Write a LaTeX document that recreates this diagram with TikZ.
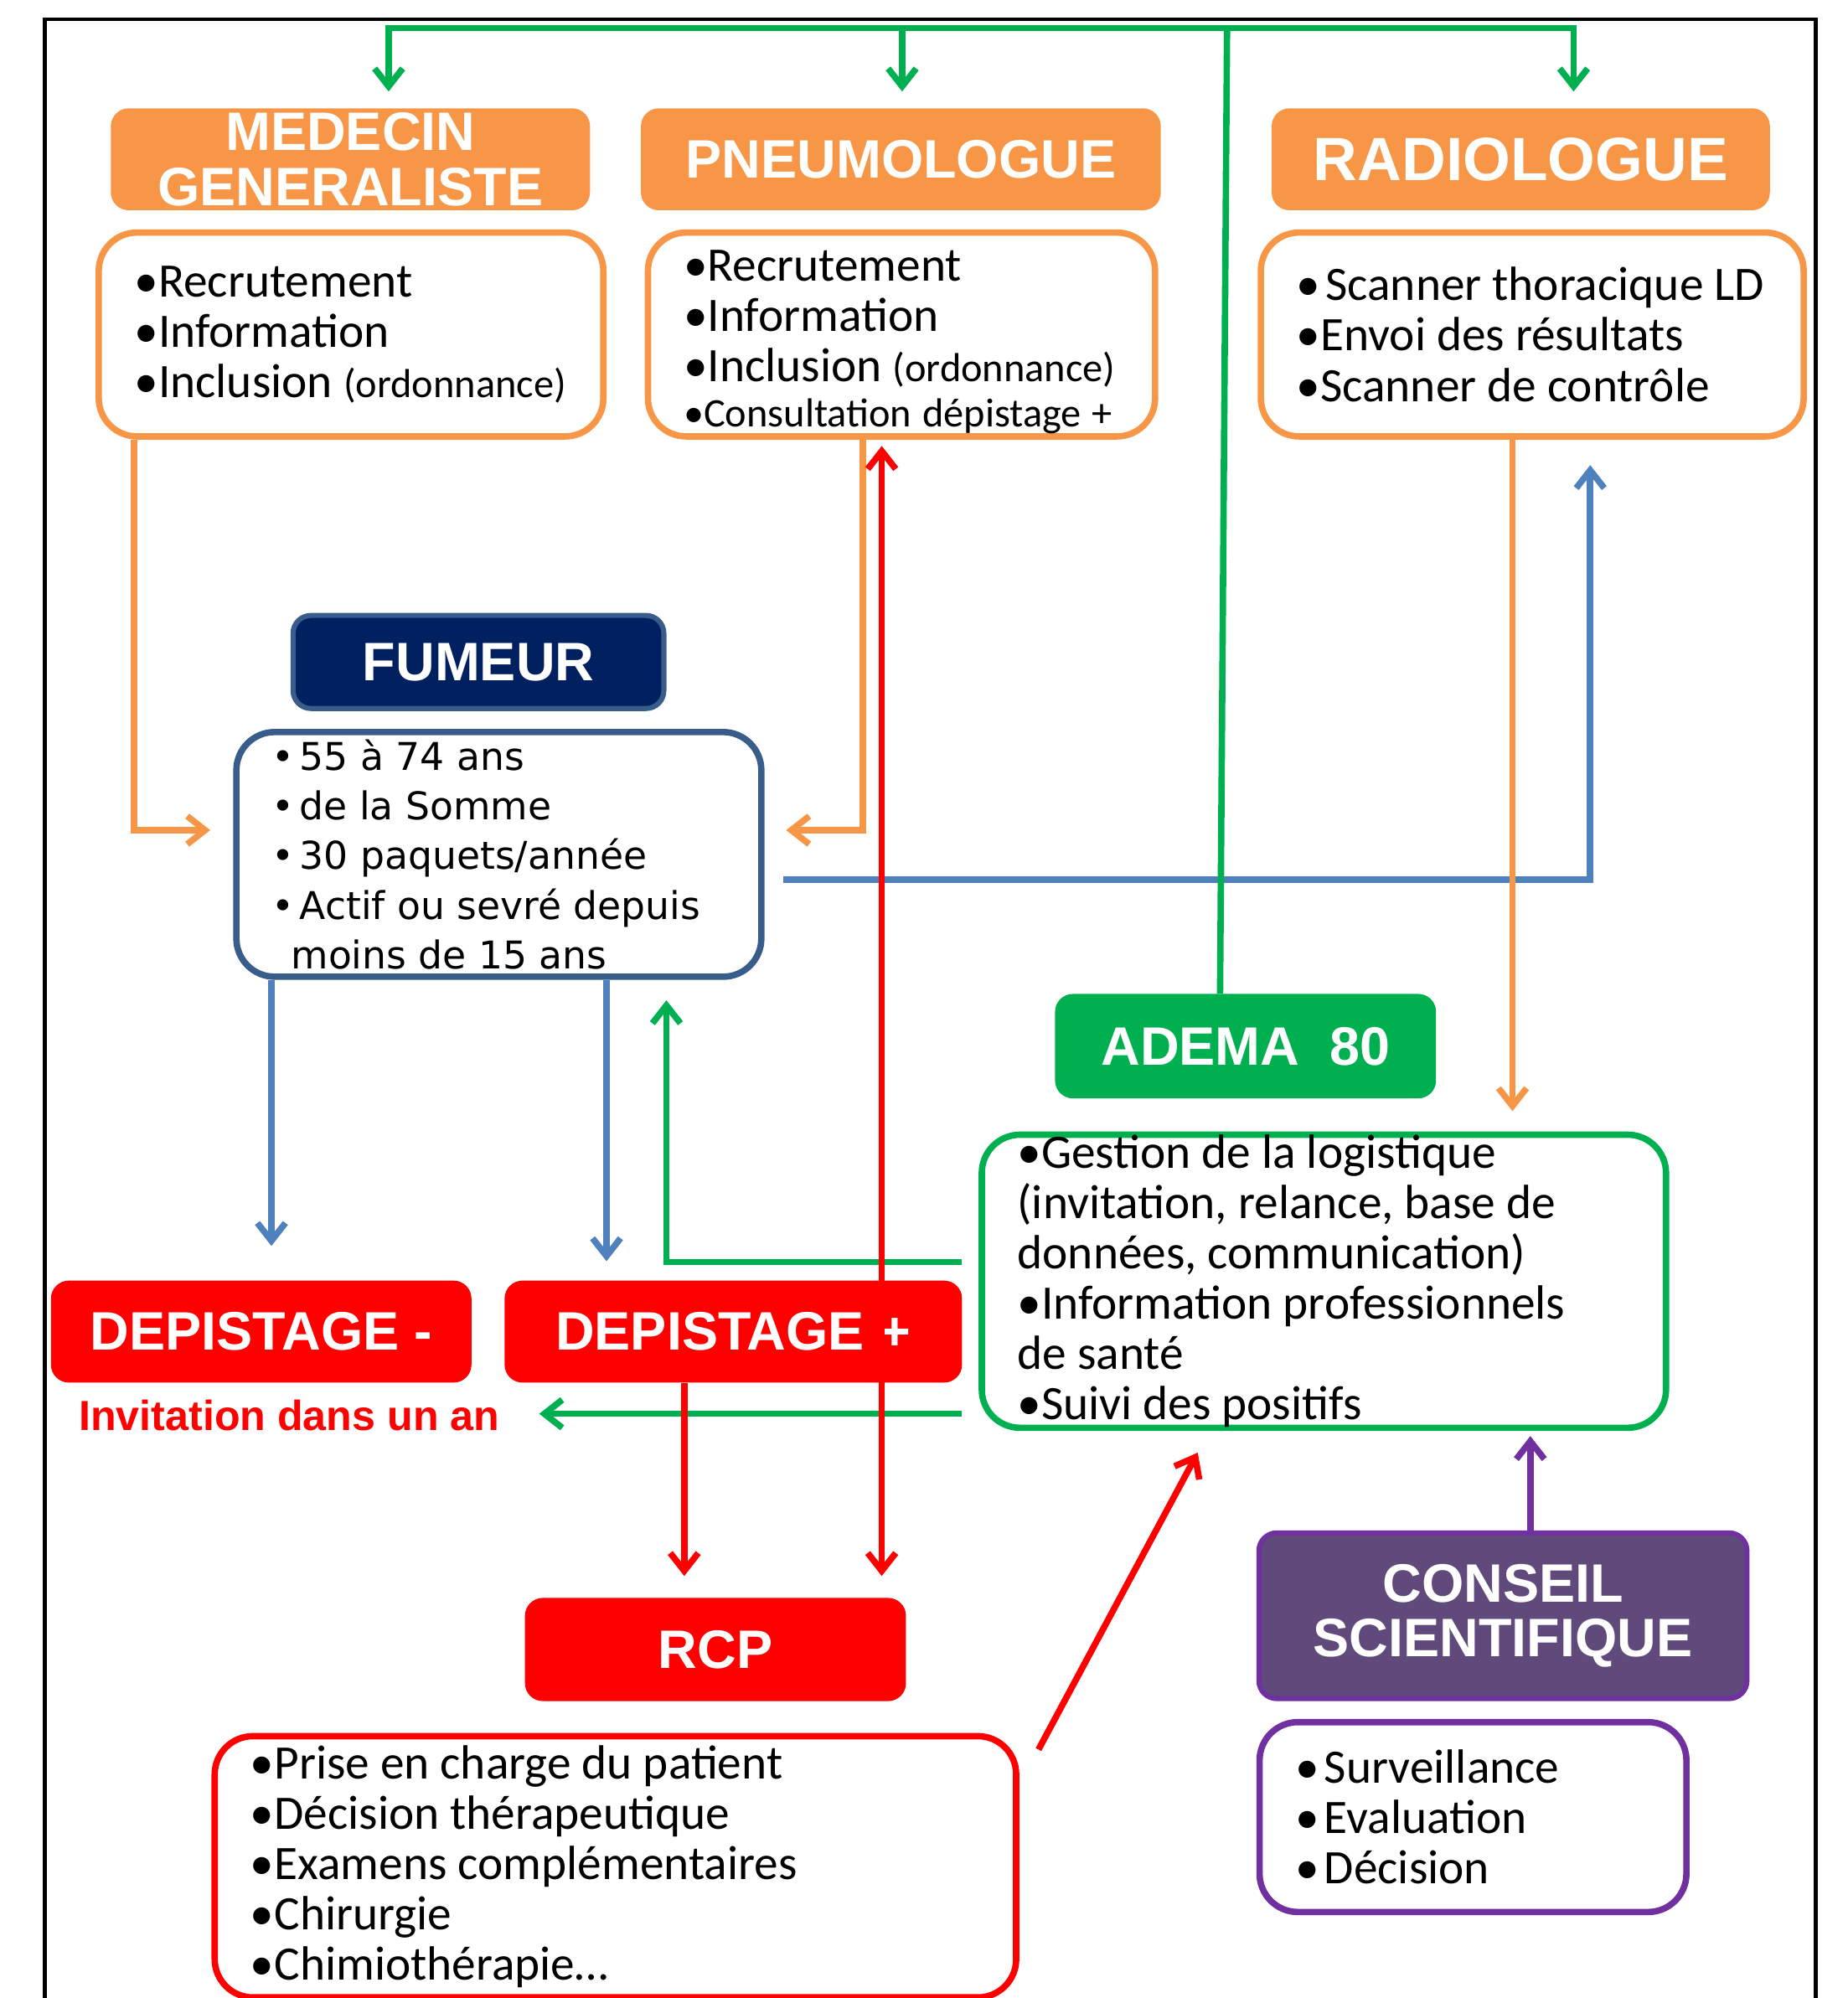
\documentclass[tikz,border=0pt]{standalone}
\usepackage{fontspec}
\setmainfont{Carlito}
\newfontfamily\headfont{Liberation Sans}
\newfontfamily\smokerfont{DejaVu Sans}
\usetikzlibrary{arrows.meta,calc}

\definecolor{orangeoff}{HTML}{F79646}
\definecolor{navy}{HTML}{002060}
\definecolor{steel}{HTML}{385D8A}
\definecolor{bluearr}{HTML}{4F81BD}
\definecolor{greenoff}{HTML}{00B050}
\definecolor{purplefill}{HTML}{604A7B}
\definecolor{purpleline}{HTML}{7030A0}

\newcommand{\hdrsize}{\fontsize{42.5}{43}\selectfont}
\newcommand{\txtsize}{\fontsize{37.7}{39.5}\selectfont}
\newcommand{\smallsize}{\fontsize{31.8}{36}\selectfont}
% one line of a box, never broken
\newcommand{\row}[1]{\mbox{#1}}
\newcommand{\bul}{•\hspace{4pt}}

\tikzset{
  head/.style={rounded corners=14, minimum height=80, text=white, align=center,
    font=\headfont\bfseries\hdrsize, inner sep=0},
  bodybox/.style={draw=#1, fill=white, line width=5, rounded corners=30,
    align=left, inner xsep=28, inner ysep=0, font=\txtsize,
    execute at begin node={\spaceskip=8.5pt plus 1pt minus 1pt}},
  link/.style={line width=5, ->},
  oarrow/.style={link, draw=orangeoff},
  barrow/.style={link, draw=bluearr},
  garrow/.style={link, draw=greenoff},
  rarrow/.style={link, draw=red},
  parrow/.style={link, draw=purpleline},
  gline/.style={line width=5, draw=greenoff}
}

\begin{document}
\begin{tikzpicture}[x=1pt, y=-1pt, >={Straight Barb[length=14,width=22]}]
\useasboundingbox (0,0) rectangle (1450,1568);
% frame
\draw[line width=3] (35,1600) |- (1425,15) -- (1425,1600);

% intervenants
\node[head, fill=orangeoff, minimum width=376] (mgh) at (275,125) {MEDECIN\\GENERALISTE};
\node[head, fill=orangeoff, minimum width=408] (pnh) at (707,125) {PNEUMOLOGUE};
\node[head, fill=orangeoff, minimum width=391, font=\headfont\bfseries\fontsize{48}{49}\selectfont] (rah) at (1193.5,125) {RADIOLOGUE};

\node[bodybox=orangeoff, text width=340, minimum height=160] (mgb) at (275.5,262.5)
  {\row{•Recrutement}\\\row{•Information}\\\row{•Inclusion {\smallsize(ordonnance)}}};
\node[bodybox=orangeoff, text width=342, minimum height=160] (pnb) at (707.5,262.5)
  {\rule{0pt}{36pt}\row{•Recrutement}\\\row{•Information}\\\row{•Inclusion {\smallsize(ordonnance)}}\\[-4pt]\row{\smallsize•Consultation dépistage +}};
\node[bodybox=orangeoff, text width=370, minimum height=160] (rab) at (1202.5,262.5)
  {\row{\bul Scanner thoracique LD}\\\row{•Envoi des résultats}\\\row{•Scanner de contrôle}};

% fumeur
\node[head, fill=navy, draw=steel, line width=4, minimum width=291, minimum height=73] (fumh) at (375.5,519.5) {FUMEUR};
\node[bodybox=steel, text width=356, minimum height=192,
  font=\smokerfont\fontsize{30}{39}\selectfont,
  execute at begin node={\spaceskip=0pt}] (fumb) at (391.5,670.5)
  {\row{\bul 55 à 74 ans}\\\row{\bul de la Somme}\\\row{\bul 30 paquets/année}\\\row{\bul Actif ou sevré depuis}\\\row{\hspace*{15pt}moins de 15 ans}};

% ADEMA
\node[head, fill=greenoff, minimum width=299, minimum height=82] (ademah) at (977.5,821) {ADEMA\ \ 80};
\node[bodybox=greenoff, text width=481, minimum height=230] (ademab) at (1039,1005.5)
  {\row{•Gestion de la logistique}\\\row{(invitation, relance, base de}\\\row{données, communication)}\\\row{•Information professionnels}\\\row{de santé}\\\row{•Suivi des positifs}};

% depistage
\node[head, fill=red, minimum width=330] (depm) at (205,1045) {DEPISTAGE -};
\node[head, fill=red, minimum width=359] (depp) at (575.5,1045) {DEPISTAGE +};
\node[inner sep=0, text=red, font=\headfont\bfseries\fontsize{33}{34}\selectfont] (inv) at (227,1111) {Invitation dans un an};

% RCP
\node[head, fill=red, minimum width=299, minimum height=81] (rcph) at (561.5,1294.5) {RCP};
\node[bodybox=red, text width=573, minimum height=205] (rcpb) at (483,1465)
  {\row{•Prise en charge du patient}\\\row{•Décision thérapeutique}\\\row{•Examens complémentaires}\\\row{•Chirurgie}\\\row{•Chimiothérapie\dots}};

% conseil
\node[head, fill=purplefill, draw=purpleline, line width=4, minimum width=383, minimum height=130] (csh) at (1179.5,1268) {CONSEIL\\SCIENTIFIQUE};
\node[bodybox=purpleline, text width=279, minimum height=149] (csb) at (1156,1426)
  {\row{\bul Surveillance}\\\row{\bul Evaluation}\\\row{\bul Décision}};

% liens
\draw[barrow] ($(fumb.east)+(15,20)$) -| ($(rab.south)+(45.5,20)$);
\draw[barrow] ($(fumb.south west)+(30,0)$) -- ($(depm.north -| fumb.south west)+(30,-27)$);
\draw[barrow] ($(fumb.south west)+(293,0)$) -- ($(depp.north -| fumb.south west)+(293,-15)$);

\coordinate (hub) at (963,22);
\draw[gline] (hub) -- ($(ademah.north)+(-20,0)$);
\draw[garrow] (hub) -| ($(mgh.north)+(30,-13)$);
\draw[garrow] (hub) -| ($(rah.north)+(41.5,-13)$);
\draw[garrow] ($(pnh.north |- hub)+(1,0)$) -- ($(pnh.north)+(1,-13)$);
\draw[garrow] ($(ademab.west)+(-13,-15)$) -| ($(fumb.south west)+(340,16)$);
\draw[garrow] ($(ademab.west)+(-13,104)$) coordinate (g2) -- ($(g2 -| inv.east)+(31,0)$);

\draw[oarrow] ($(mgb.south west)+(30,0)$) |- ($(fumb.west)+(-18,-19)$);
\draw[oarrow] ($(pnb.south west)+(171,0)$) |- ($(fumb.east)+(17,-19)$);
\draw[oarrow] ($(rab.south)+(-15.5,0)$) coordinate (ra1) -- ($(ra1 |- ademab.north)+(0,-16)$);

\draw[rarrow, <->] ($(pnb.south)+(-15.5,5)$) -- ($(rcph.north)+(130.5,-17)$);
\draw[rarrow] ($(depp.south)+(-38.5,0)$) -- ($(rcph.north)+(-24.5,-17)$);
\draw[rarrow] ($(rcpb.north east)+(15,13)$) -- ($(ademab.south west)+(172,17)$);

\draw[parrow] ($(csh.north)+(21.5,0)$) coordinate (p1) -- ($(p1 |- ademab.south)+(0,4)$);
\end{tikzpicture}
\end{document}
